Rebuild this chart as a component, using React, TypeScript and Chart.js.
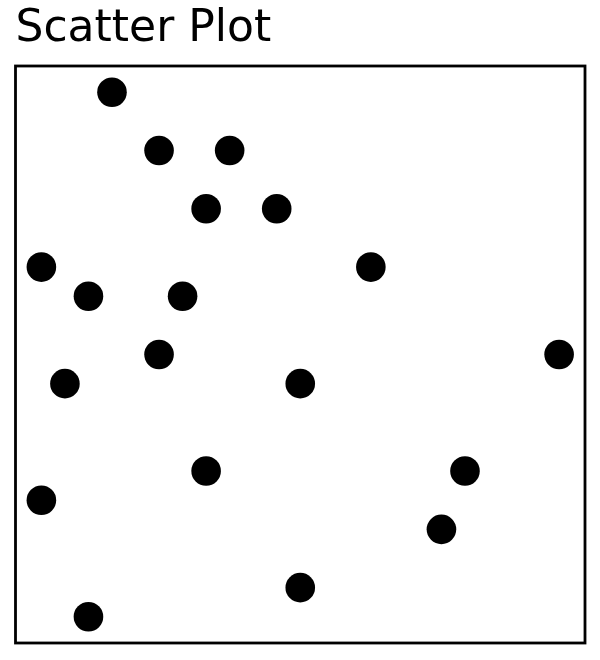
import React, { useEffect, useRef } from "react";
import { Chart, registerables } from "chart.js";

Chart.register(...registerables);

const chartTitle = "Scatter Plot";
const xValues = [3, 5, 8, 7, 10, 0, 14, 2, 6, 5, 22, 1, 11, 7, 18, 0, 17, 11, 2];
const yValues = [18, 16, 16, 14, 14, 12, 12, 11, 11, 9, 9, 8, 8, 5, 5, 4, 3, 1, 0];

const frameBorder = {
  id: "frameBorder",
  afterDatasetsDraw(chart: any) {
    const { ctx, chartArea } = chart;
    ctx.save();
    ctx.strokeStyle = "#000";
    ctx.lineWidth = 2.8;
    ctx.strokeRect(
      chartArea.left,
      chartArea.top,
      chartArea.right - chartArea.left,
      chartArea.bottom - chartArea.top
    );
    ctx.restore();
  },
};

export default function App() {
  const ref = useRef<HTMLCanvasElement | null>(null);
  useEffect(() => {
    if (!ref.current) return;
    const points = xValues.map((x, i) => ({ x, y: yValues[i] }));
    const chart = new Chart(ref.current, {
      type: "scatter",
      data: {
        datasets: [
          {
            data: points,
            backgroundColor: "#000",
            borderWidth: 0,
            pointRadius: 14.8,
            pointHoverRadius: 14.8,
            clip: false as any,
          },
        ],
      },
      options: {
        responsive: false,
        animation: false,
        layout: { padding: { left: 15.5, right: 15, top: 0, bottom: 17 } },
        plugins: {
          legend: { display: false },
          tooltip: { enabled: false },
          title: {
            display: true,
            text: chartTitle,
            align: "start",
            color: "#000",
            font: { family: "DejaVu Sans", size: 44, weight: "normal", lineHeight: 1.2 },
            padding: { top: 3, bottom: 10.2 },
          },
        },
        scales: {
          x: { type: "linear", min: -1.1, max: 23.1, display: false },
          y: { type: "linear", min: -0.9, max: 18.9, display: false },
        },
      },
      plugins: [frameBorder],
    });
    return () => chart.destroy();
  }, []);
  return (
    <div style={{ position: "absolute", left: 0, top: 0, width: 600, height: 660, background: "#fff" }}>
      <canvas ref={ref} width={600} height={660} />
    </div>
  );
}
